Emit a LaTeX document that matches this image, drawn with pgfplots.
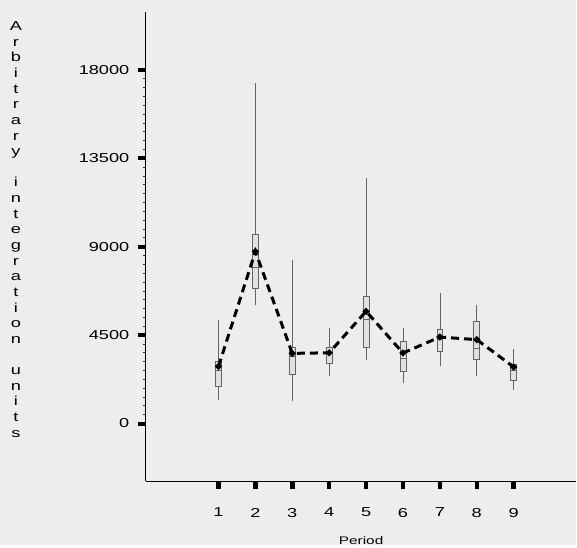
\documentclass[border=0pt]{standalone}
\usepackage{fontspec}
\setmainfont[FakeStretch=1.4]{Liberation Sans}
\usepackage{pgfplots}
\pgfplotsset{compat=1.18}
\definecolor{bg}{RGB}{237,238,236}
\definecolor{boxline}{RGB}{100,100,100}
\definecolor{boxfill}{RGB}{225,225,223}
\begin{document}
\begin{tikzpicture}
\fill[bg] (0pt,0pt) rectangle (577pt,546pt);
\begin{axis}[
  at={(146pt,64pt)}, anchor=south west,
  scale only axis, width=431pt, height=470pt,
  xmin=-0.97, xmax=10.7, ymin=-2950, ymax=20950,
  axis lines*=left,
  axis line style={line width=1.3pt, black},
  xtick={1,2,3,4,5,6,7,8,9},
  ytick={0,4500,9000,13500,18000},
  minor y tick num=9,
  tick align=outside,
  major tick length=8pt,
  minor tick length=3pt,
  every major x tick/.append style={line width=4.5pt, black},
  every major y tick/.append style={line width=4pt, black},
  every minor y tick/.append style={line width=0.8pt, black!80},
  scaled y ticks=false,
  /pgf/number format/1000 sep={},
  /pgf/number format/assume math mode=true,
  ticklabel style={font=\fontsize{13}{15}\selectfont},
  xticklabel style={yshift=-15pt},
  yticklabel style={xshift=-5pt},
  xlabel={Period},
  xlabel style={font=\fontsize{11}{13}\selectfont, at={(axis description cs:0.5,0)}, anchor=center, yshift=-59pt},
  ylabel={\fontsize{13}{15.65}\selectfont\begin{tabular}{@{}c@{}}A\\r\\b\\i\\t\\r\\a\\r\\y\\ \\i\\n\\t\\e\\g\\r\\a\\t\\i\\o\\n\\ \\u\\n\\i\\t\\s\end{tabular}},
  ylabel style={rotate=-90, at={(axis description cs:-0.302,0.534)}, anchor=center},
  clip=false,
  unbounded coords=jump,
]
% whiskers (lower whisker to upper whisker)
\addplot[boxline, line width=0.7pt] coordinates {
(1,1220) (1,5290) (1,nan)
(2,6050) (2,17350) (2,nan)
(3,1130) (3,8340) (3,nan)
(4,2400) (4,4870) (4,nan)
(5,3250) (5,12490) (5,nan)
(6,2070) (6,4870) (6,nan)
(7,2910) (7,6640) (7,nan)
(8,2400) (8,6050) (8,nan)
(9,1730) (9,3800)};
% boxes (lower quartile to upper quartile)
\addplot[draw=boxline, fill=boxfill, line width=0.8pt] coordinates {(0.92,1900) (1.08,1900) (1.08,3170) (0.92,3170)} -- cycle;
\addplot[draw=boxline, fill=boxfill, line width=0.8pt] coordinates {(1.92,6900) (2.08,6900) (2.08,9610) (1.92,9610)} -- cycle;
\addplot[draw=boxline, fill=boxfill, line width=0.8pt] coordinates {(2.92,2490) (3.08,2490) (3.08,3850) (2.92,3850)} -- cycle;
\addplot[draw=boxline, fill=boxfill, line width=0.8pt] coordinates {(3.92,3085) (4.08,3085) (4.08,3850) (3.92,3850)} -- cycle;
\addplot[draw=boxline, fill=boxfill, line width=0.8pt] coordinates {(4.92,3850) (5.08,3850) (5.08,6470) (4.92,6470)} -- cycle;
\addplot[draw=boxline, fill=boxfill, line width=0.8pt] coordinates {(5.92,2660) (6.08,2660) (6.08,4190) (5.92,4190)} -- cycle;
\addplot[draw=boxline, fill=boxfill, line width=0.8pt] coordinates {(6.92,3680) (7.08,3680) (7.08,4780) (6.92,4780)} -- cycle;
\addplot[draw=boxline, fill=boxfill, line width=0.8pt] coordinates {(7.92,3250) (8.08,3250) (8.08,5200) (7.92,5200)} -- cycle;
\addplot[draw=boxline, fill=boxfill, line width=0.8pt] coordinates {(8.92,2200) (9.08,2200) (9.08,3000) (8.92,3000)} -- cycle;
% medians
\addplot[boxline, line width=0.7pt] coordinates {
(0.92,2700) (1.08,2700) (1,nan)
(1.92,7930) (2.08,7930) (2,nan)
(2.92,3400) (3.08,3400) (3,nan)
(3.92,3600) (4.08,3600) (4,nan)
(4.92,5290) (5.08,5290) (5,nan)
(5.92,3300) (6.08,3300) (6,nan)
(6.92,4300) (7.08,4300) (7,nan)
(7.92,3850) (8.08,3850) (8,nan)
(8.92,2700) (9.08,2700)};
% means joined by dashed line
\addplot[black, line width=3pt, dash pattern=on 8pt off 5pt, mark=*, mark size=1.6pt, mark options={solid}] coordinates {
(1,2910) (2,8760) (3,3570) (4,3600) (5,5710) (6,3590) (7,4400) (8,4270) (9,2880)};
\end{axis}
\end{tikzpicture}
\end{document}
